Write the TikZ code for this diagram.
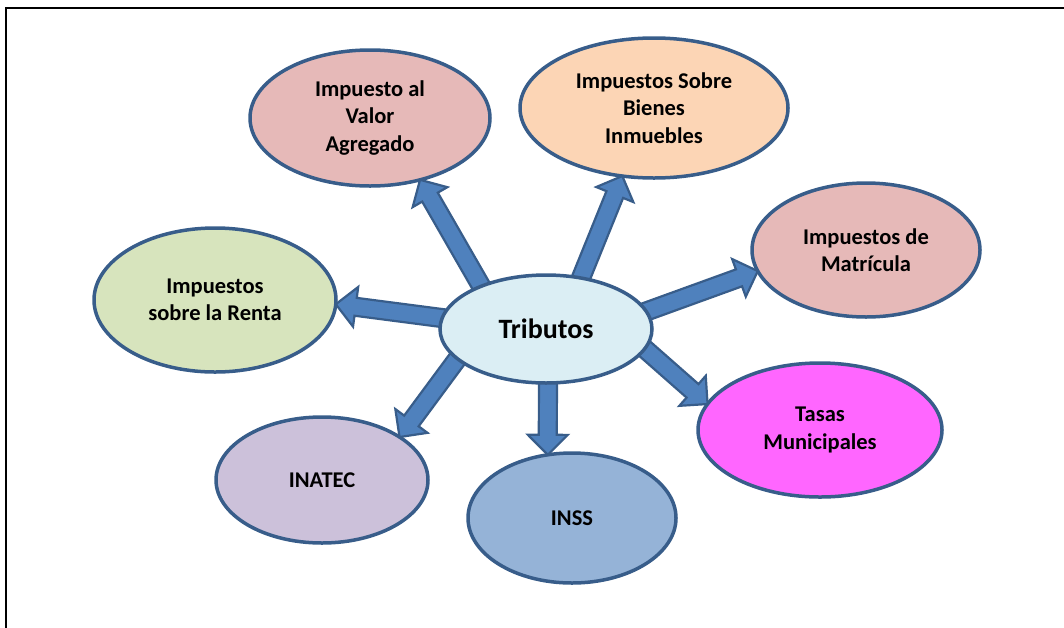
\documentclass[tikz,border=0pt]{standalone}
\usepackage{fontspec}
\setmainfont{Carlito}
\usetikzlibrary{shapes.geometric,calc}
\pgfdeclarelayer{arrows}
\pgfdeclarelayer{top}
\pgfsetlayers{main,arrows,top}
\definecolor{bord}{HTML}{385D8A}
\definecolor{arrfill}{HTML}{4F81BD}
\definecolor{tribfill}{HTML}{DBEEF4}
\definecolor{ivafill}{HTML}{E6B9B8}
\definecolor{bienfill}{HTML}{FCD5B5}
\definecolor{rentafill}{HTML}{D7E4BD}
\definecolor{tasafill}{HTML}{FF66FF}
\definecolor{inatecfill}{HTML}{CCC1DA}
\definecolor{inssfill}{HTML}{95B3D7}
\tikzset{
  bubble/.style={ellipse, draw=bord, line width=3.5pt, inner sep=0pt, outer sep=0pt,
    align=center, font=\fontsize{22.5}{27.5}\selectfont\bfseries},
  blockarrow/.style={draw=bord, fill=arrfill, line width=2.2pt, line join=miter},
}
\newcommand{\blockarr}[2]{%
  \path #1 coordinate (ba-a) #2 coordinate (ba-b);
  \coordinate (ba-h) at ($(ba-b)!20pt!(ba-a)$);
  \draw[blockarrow] ($(ba-a)!9pt!90:(ba-b)$) -- ($(ba-h)!9pt!-90:(ba-a)$)
    -- ($(ba-h)!20pt!-90:(ba-a)$) -- (ba-b) -- ($(ba-h)!20pt!90:(ba-a)$)
    -- ($(ba-h)!9pt!90:(ba-a)$) -- ($(ba-a)!9pt!-90:(ba-b)$) -- cycle;
}
\begin{document}
\begin{tikzpicture}[x=1pt,y=-1pt]
\useasboundingbox (0,0) rectangle (1064,627);
\draw[line width=2.5pt] (6,640) -- (6,8) -- (1070,8);

\node[bubble, fill=ivafill, minimum width=240pt, minimum height=136pt] (iva) at (370,118) {Impuesto al\\Valor\\Agregado};
\node[bubble, fill=bienfill, minimum width=268pt, minimum height=140pt] (bienes) at (654,108) {Impuestos Sobre\\Bienes\\Inmuebles};
\node[bubble, fill=ivafill, minimum width=228pt, minimum height=134pt] (matri) at (866,250) {Impuestos de\\Matrícula};
\node[bubble, fill=rentafill, minimum width=242pt, minimum height=144pt] (renta) at (215,300) {Impuestos\\sobre la Renta};
\node[bubble, fill=tasafill, minimum width=244pt, minimum height=134pt] (tasas) at (820,430) {Tasas\\Municipales};
\node[bubble, fill=inatecfill, minimum width=212pt, minimum height=126pt] (inatec) at (322,480) {INATEC};
\node[bubble, fill=inssfill, minimum width=208pt, minimum height=130pt] (inss) at (572,518) {INSS};

\begin{pgfonlayer}{top}
\node[ellipse, draw=bord, line width=3.5pt, fill=tribfill, inner sep=0pt, outer sep=0pt,
  minimum width=212pt, minimum height=108pt, font=\fontsize{28}{32}\selectfont\bfseries] (trib) at (546,329) {Tributos};
\end{pgfonlayer}

\begin{pgfonlayer}{arrows}
\blockarr{($(trib.center)+(-54,-24)$)}{(iva.-51)}
\blockarr{($(trib.center)+(24,-24)$)}{(bienes.-115)}
\blockarr{($(trib.center)+(74,-8)$)}{(matri.-169)}
\blockarr{($(trib.center)+(-66,-6)$)}{(renta.-2)}
\blockarr{($(trib.center)+(74,-2)$)}{(tasas.167)}
\blockarr{($(trib.center)+(2,36)$)}{(inss.111)}
\blockarr{($(trib.center)+(-71,6)$)}{(inatec.29)}
\end{pgfonlayer}
\end{tikzpicture}
\end{document}
